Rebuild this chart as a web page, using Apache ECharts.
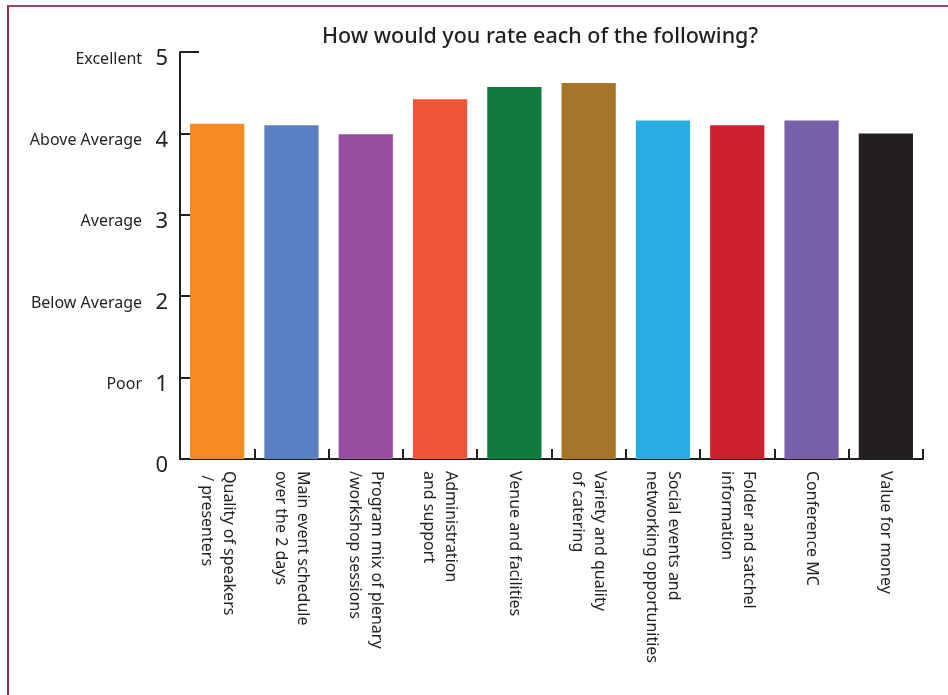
<!DOCTYPE html>
<html>
<head>
<meta charset="utf-8">
<script src="https://cdn.jsdelivr.net/npm/echarts@6/dist/echarts.min.js"></script>
<style>
  html, body { margin: 0; padding: 0; background: #fff; }
  #frame { position: absolute; left: 7px; top: 5px; width: 960px; height: 720px;
           border-top: 2px solid #9b4a6c; border-left: 2px solid #8a2f52; }
  #chart { position: absolute; left: 0; top: 0; width: 948px; height: 695px; }
</style>
</head>
<body>
<div id="frame"></div>
<div id="chart"></div>
<script>
const categories = [
  'Quality of speakers\n / presenters',
  'Main event schedule\nover the 2 days',
  'Program mix of plenary\n/workshop sessions',
  'Administration\nand support',
  'Venue and facilities',
  'Variety and quality\nof catering',
  'Social events and\nnetworking opportunities',
  'Folder and satchel\ninformation',
  'Conference MC',
  'Value for money'
];
const values = [4.12, 4.10, 3.99, 4.42, 4.57, 4.62, 4.16, 4.10, 4.16, 4.00];
const barColors = ['#F58A20', '#5A80C2', '#954F9E', '#F05338', '#117A3E',
                   '#A5752A', '#28ACE2', '#CE202F', '#7961AA', '#231F20'];
const ratingNames = ['', 'Poor', 'Below Average', 'Average', 'Above Average', 'Excellent'];
const titleText = 'How would you rate each of the following?';

const chart = echarts.init(document.getElementById('chart'), null, { renderer: 'canvas' });
const font = 'Noto Sans';
chart.setOption({
  animation: false,
  backgroundColor: 'transparent',
  title: {
    text: titleText,
    left: 535, top: 21, textAlign: 'center',
    textStyle: { fontFamily: font, fontSize: 21.5, fontWeight: 500, color: '#231F20' }
  },
  grid: { left: 180, right: 25, top: 52, bottom: 236, containLabel: false },
  xAxis: {
    type: 'category',
    data: categories,
    axisLine: { lineStyle: { color: '#231F20', width: 2 } },
    axisTick: { show: true, inside: true, length: 10, alignWithLabel: false,
                lineStyle: { color: '#231F20', width: 2 } },
    axisLabel: {
      rotate: -90, interval: 0, margin: 12,
      fontFamily: font, fontSize: 16, color: '#231F20', lineHeight: 22
    }
  },
  yAxis: [{
    type: 'value', min: 0, max: 5, interval: 1,
    splitLine: { show: false },
    axisLine: { show: true, lineStyle: { color: '#231F20', width: 2 } },
    axisTick: { show: true, inside: true, length: 11, lineStyle: { color: '#231F20', width: 2 } },
    axisLabel: {
      margin: 12,
      padding: [14, 0, 0, 0],
      formatter: function (v) { return '{a|' + ratingNames[v] + '}    {b|' + v + '}'; },
      rich: {
        a: { fontFamily: font, fontSize: 16, color: '#231F20' },
        b: { fontFamily: font, fontSize: 22, color: '#231F20' }
      }
    }
  }, {
    type: 'value', min: 0, max: 5, interval: 5, position: 'left',
    splitLine: { show: false },
    axisLine: { show: false },
    axisLabel: { show: false },
    axisTick: { show: true, inside: true, length: 19, lineStyle: { color: '#231F20', width: 2 } }
  }],
  series: [{
    type: 'bar',
    barCategoryGap: '27%',
    data: values.map((v, i) => ({ value: v, itemStyle: { color: barColors[i] } }))
  }]
});
</script>
</body>
</html>
